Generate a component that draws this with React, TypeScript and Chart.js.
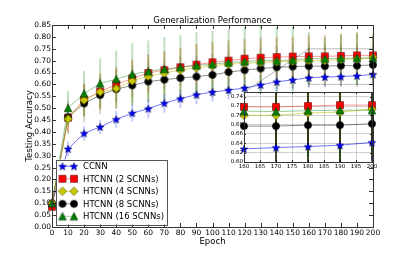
import React, { useEffect, useRef } from "react";
import { Chart, registerables } from "chart.js";
Chart.register(...registerables);

// ---------------- data ----------------
const epochs = [0, 10, 20, 30, 40, 50, 60, 70, 80, 90, 100, 110, 120, 130, 140, 150, 160, 170, 180, 190, 200];
const ccnn = [0.100, 0.329, 0.394, 0.421, 0.453, 0.479, 0.498, 0.521, 0.540, 0.557, 0.568, 0.576, 0.585, 0.598, 0.611, 0.619, 0.628, 0.631, 0.633, 0.636, 0.642];
const htcnn2 = [0.085, 0.460, 0.535, 0.570, 0.600, 0.625, 0.648, 0.660, 0.672, 0.683, 0.693, 0.700, 0.708, 0.712, 0.715, 0.717, 0.718, 0.718, 0.720, 0.722, 0.722];
const htcnn4 = [0.100, 0.455, 0.534, 0.568, 0.583, 0.615, 0.634, 0.648, 0.660, 0.670, 0.678, 0.685, 0.689, 0.692, 0.695, 0.697, 0.700, 0.700, 0.705, 0.707, 0.713];
const htcnn8 = [0.100, 0.462, 0.520, 0.555, 0.580, 0.596, 0.612, 0.620, 0.627, 0.633, 0.640, 0.652, 0.660, 0.667, 0.672, 0.675, 0.677, 0.677, 0.679, 0.679, 0.682];
const htcnn16 = [0.100, 0.501, 0.562, 0.604, 0.622, 0.643, 0.655, 0.665, 0.672, 0.680, 0.685, 0.692, 0.696, 0.700, 0.700, 0.703, 0.709, 0.708, 0.710, 0.711, 0.711];

const errCcnn = [0.010, 0.030, 0.030, 0.030, 0.035, 0.035, 0.040, 0.040, 0.040, 0.040, 0.040, 0.040, 0.040, 0.040, 0.040, 0.040, 0.040, 0.040, 0.040, 0.040, 0.040];
const err2 = [0.010, 0.060, 0.070, 0.075, 0.075, 0.080, 0.080, 0.080, 0.080, 0.085, 0.085, 0.085, 0.085, 0.085, 0.085, 0.085, 0.090, 0.090, 0.090, 0.090, 0.090];
const err4 = [0.010, 0.060, 0.070, 0.080, 0.085, 0.090, 0.090, 0.090, 0.095, 0.100, 0.100, 0.100, 0.100, 0.100, 0.100, 0.100, 0.100, 0.100, 0.110, 0.110, 0.100];
const err8 = [0.010, 0.070, 0.080, 0.080, 0.085, 0.085, 0.085, 0.085, 0.090, 0.090, 0.090, 0.090, 0.090, 0.090, 0.090, 0.090, 0.090, 0.090, 0.090, 0.090, 0.090];
const err16 = [0.010, 0.070, 0.095, 0.105, 0.120, 0.130, 0.130, 0.135, 0.135, 0.140, 0.140, 0.140, 0.145, 0.145, 0.140, 0.140, 0.110, 0.090, 0.100, 0.110, 0.090];

const labels = ["CCNN", "HTCNN (2 SCNNs)", "HTCNN (4 SCNNs)", "HTCNN (8 SCNNs)", "HTCNN (16 SCNNs)"];
const titleText = "Generalization Performance";
const xTitle = "Epoch";
const yTitle = "Testing Accuracy";

const mainX = { min: 0, max: 200, step: 10 };
const mainY = { min: 0, max: 0.85, step: 0.05 };
const insetX = { min: 160, max: 200, step: 5 };
const insetY = { min: 0.6, max: 0.75, step: 0.02 };

const FONT = "DejaVu Sans";

// ---------------- markers ----------------
function makeMarker(kind: string, fill: string, stroke: string): HTMLCanvasElement {
  const c = document.createElement("canvas");
  const s = 12;
  c.width = s;
  c.height = s;
  const ctx = c.getContext("2d")!;
  const cx = s / 2, cy = s / 2;
  ctx.fillStyle = fill;
  ctx.strokeStyle = stroke;
  ctx.lineWidth = 0.6;
  ctx.beginPath();
  if (kind === "star") {
    const ro = 4.0, ri = 1.7;
    for (let i = 0; i < 10; i++) {
      const r = i % 2 === 0 ? ro : ri;
      const a = -Math.PI / 2 + (i * Math.PI) / 5;
      const px = cx + r * Math.cos(a), py = cy + 0.4 + r * Math.sin(a);
      if (i === 0) ctx.moveTo(px, py); else ctx.lineTo(px, py);
    }
    ctx.closePath();
  } else if (kind === "square") {
    ctx.rect(cx - 3.5, cy - 3.5, 7, 7);
  } else if (kind === "diamond") {
    const h = 4.3;
    ctx.moveTo(cx, cy - h);
    ctx.lineTo(cx + h, cy);
    ctx.lineTo(cx, cy + h);
    ctx.lineTo(cx - h, cy);
    ctx.closePath();
  } else if (kind === "circle") {
    ctx.arc(cx, cy, 3.6, 0, Math.PI * 2);
  } else if (kind === "triangle") {
    const h = 3.8;
    ctx.moveTo(cx, cy - h);
    ctx.lineTo(cx + h, cy + h);
    ctx.lineTo(cx - h, cy + h);
    ctx.closePath();
  }
  ctx.fill();
  ctx.stroke();
  return c;
}

type Series = {
  label: string;
  values: number[];
  err: number[];
  marker: HTMLCanvasElement;
  line: string;
  errMain: string;
  errInset: string;
  order: number;
};

function drawInwardTicks(chart: any, len: number) {
  const { ctx, chartArea: a, scales } = chart;
  ctx.save();
  ctx.strokeStyle = "#000";
  ctx.lineWidth = 0.8;
  ctx.beginPath();
  for (const t of scales.y.ticks) {
    const py = Math.round(scales.y.getPixelForValue(t.value)) + 0.5;
    ctx.moveTo(a.left, py); ctx.lineTo(a.left + len, py);
    ctx.moveTo(a.right, py); ctx.lineTo(a.right - len, py);
  }
  for (const t of scales.x.ticks) {
    const px = Math.round(scales.x.getPixelForValue(t.value)) + 0.5;
    ctx.moveTo(px, a.bottom); ctx.lineTo(px, a.bottom - len);
    ctx.moveTo(px, a.top); ctx.lineTo(px, a.top + len);
  }
  ctx.stroke();
  ctx.strokeStyle = "#333";
  ctx.lineWidth = 1;
  ctx.strokeRect(Math.round(a.left) + 0.5, Math.round(a.top) + 0.5, Math.round(a.right - a.left), Math.round(a.bottom - a.top));
  ctx.restore();
}

const INSET_LEFT = 220;
const INSET_TOP = 86;
const INSET_W = 160;
const INSET_H = 86;

export default function App() {
  const mainRef = useRef<HTMLCanvasElement>(null);
  const insetRef = useRef<HTMLCanvasElement>(null);

  useEffect(() => {
    document.body.style.margin = "0";
    const series: Series[] = [
      { label: labels[0], values: ccnn, err: errCcnn, marker: makeMarker("star", "#0000ff", "#000066"), line: "rgba(0,0,255,0.55)", errMain: "rgba(0,0,255,0.22)", errInset: "rgba(0,0,140,0.85)", order: 4 },
      { label: labels[1], values: htcnn2, err: err2, marker: makeMarker("square", "#ff0000", "#660000"), line: "rgba(255,0,0,0.4)", errMain: "rgba(200,0,0,0.2)", errInset: "rgba(120,0,0,0.7)", order: 3 },
      { label: labels[2], values: htcnn4, err: err4, marker: makeMarker("diamond", "#c8c800", "#555500"), line: "rgba(191,191,0,0.55)", errMain: "rgba(191,191,0,0.25)", errInset: "rgba(90,90,0,0.8)", order: 1 },
      { label: labels[3], values: htcnn8, err: err8, marker: makeMarker("circle", "#000000", "#000000"), line: "rgba(0,0,0,0.45)", errMain: "rgba(0,0,0,0.16)", errInset: "rgba(0,0,0,0.8)", order: 2 },
      { label: labels[4], values: htcnn16, err: err16, marker: makeMarker("triangle", "#008000", "#003300"), line: "rgba(0,128,0,0.4)", errMain: "rgba(0,128,0,0.25)", errInset: "rgba(0,70,0,0.8)", order: 0 },
    ];
    const errDrawOrder = [0, 3, 2, 1, 4];

    const makeDatasets = (filter: (e: number) => boolean) =>
      series.map((s) => ({
        label: s.label,
        data: epochs.map((e, i) => ({ x: e, y: s.values[i] })).filter((p) => filter(p.x)),
        borderColor: s.line,
        borderWidth: 1,
        pointStyle: s.marker,
        pointRadius: 5,
        pointHoverRadius: 5,
        fill: false,
        tension: 0,
        order: s.order,
        clip: false as any,
      }));

    const errPlugin = (insetMode: boolean) => ({
      id: insetMode ? "errInset" : "errMain",
      beforeDatasetsDraw(chart: any) {
        const { ctx, chartArea: a, scales } = chart;
        ctx.save();
        ctx.beginPath();
        ctx.rect(a.left, a.top, a.right - a.left, a.bottom - a.top);
        ctx.clip();
        for (const k of errDrawOrder) {
          const s = series[k];
          ctx.strokeStyle = insetMode ? s.errInset : s.errMain;
          ctx.lineWidth = insetMode ? 1.2 : 2;
          ctx.beginPath();
          epochs.forEach((e, i) => {
            if (insetMode && e < insetX.min) return;
            const px = scales.x.getPixelForValue(e);
            ctx.moveTo(px, scales.y.getPixelForValue(s.values[i] - s.err[i]));
            ctx.lineTo(px, scales.y.getPixelForValue(s.values[i] + s.err[i]));
          });
          ctx.stroke();
        }
        ctx.restore();
      },
    });

    // ---------- inset chart ----------
    const inset = new Chart(insetRef.current!, {
      type: "line",
      data: { datasets: makeDatasets((e) => e >= insetX.min) as any },
      options: {
        responsive: false,
        maintainAspectRatio: false,
        animation: false,
        devicePixelRatio: 1,
        events: [],
        layout: { padding: { left: 0, right: 8, top: 4, bottom: 0 } },
        plugins: { legend: { display: false }, title: { display: false }, tooltip: { enabled: false } },
        scales: {
          x: {
            type: "linear",
            min: insetX.min,
            max: insetX.max,
            afterFit: (s: any) => { s.height = 10; },
            border: { display: false },
            grid: { color: "rgba(0,0,0,0.18)", lineWidth: 1, drawTicks: false, tickLength: 0 },
            ticks: { stepSize: insetX.step, autoSkip: false, maxRotation: 0, padding: 1, color: "#000", font: { family: FONT, size: 5.5 } },
          },
          y: {
            type: "linear",
            min: insetY.min,
            max: insetY.max,
            afterFit: (s: any) => { s.width = 24; },
            border: { display: false },
            grid: { color: "rgba(0,0,0,0.18)", lineWidth: 1, drawTicks: false, tickLength: 0 },
            ticks: { stepSize: insetY.step, includeBounds: false, autoSkip: false, padding: 1, color: "#000", font: { family: FONT, size: 5.5 }, callback: (v: any) => Number(v).toFixed(2) },
          },
        },
      },
      plugins: [
        {
          id: "insetBg",
          beforeDraw(chart: any) {
            const { ctx, chartArea: a } = chart;
            ctx.save();
            ctx.fillStyle = "#fff";
            ctx.fillRect(a.left, a.top, a.right - a.left, a.bottom - a.top);
            ctx.restore();
          },
          afterDraw(chart: any) { drawInwardTicks(chart, 2); },
        },
        errPlugin(true),
      ] as any,
    });

    // ---------- main chart ----------
    const main = new Chart(mainRef.current!, {
      type: "line",
      data: { datasets: makeDatasets(() => true) as any },
      options: {
        responsive: false,
        maintainAspectRatio: false,
        animation: false,
        devicePixelRatio: 1,
        events: [],
        layout: { padding: { left: 0, right: 42, top: 25, bottom: 0 } },
        plugins: { legend: { display: false }, title: { display: false }, tooltip: { enabled: false } },
        scales: {
          x: {
            type: "linear",
            min: mainX.min,
            max: mainX.max,
            afterFit: (s: any) => { s.height = 27; },
            border: { display: false },
            grid: { display: false, drawTicks: false, tickLength: 0 },
            ticks: { stepSize: mainX.step, autoSkip: false, maxRotation: 0, minRotation: 0, padding: 2, color: "#000", font: { family: FONT, size: 7.5 } },
          },
          y: {
            type: "linear",
            min: mainY.min,
            max: mainY.max,
            afterFit: (s: any) => { s.width = 52; },
            border: { display: false },
            grid: { display: false, drawTicks: false, tickLength: 0 },
            ticks: { stepSize: mainY.step, autoSkip: false, padding: 1, color: "#000", font: { family: FONT, size: 7.5 }, callback: (v: any) => Number(v).toFixed(2) },
          },
        },
      },
      plugins: [
        errPlugin(false),
        {
          id: "markInset",
          afterDatasetsDraw(chart: any) {
            const { ctx, scales } = chart;
            const x1 = scales.x.getPixelForValue(insetX.min);
            const x2 = scales.x.getPixelForValue(insetX.max);
            const y1 = scales.y.getPixelForValue(insetY.max);
            const y2 = scales.y.getPixelForValue(insetY.min);
            const ia = inset.chartArea;
            ctx.save();
            ctx.strokeStyle = "rgba(0,0,0,0.22)";
            ctx.lineWidth = 1.2;
            ctx.strokeRect(x1, y1, x2 - x1, y2 - y1);
            ctx.beginPath();
            ctx.moveTo(x1, y1);
            ctx.lineTo(INSET_LEFT + ia.left, INSET_TOP + ia.top);
            ctx.moveTo(x2, y2);
            ctx.lineTo(INSET_LEFT + ia.right, INSET_TOP + ia.bottom);
            ctx.stroke();
            ctx.restore();
          },
        },
        {
          id: "decor",
          afterDraw(chart: any) {
            const { ctx, chartArea: a } = chart;
            drawInwardTicks(chart, 4);
            ctx.save();
            ctx.fillStyle = "#000";
            ctx.font = `8.5px "${FONT}"`;
            ctx.textAlign = "center";
            ctx.textBaseline = "alphabetic";
            ctx.fillText(titleText, (a.left + a.right) / 2, a.top - 2);
            ctx.fillText(xTitle, (a.left + a.right) / 2, a.bottom + 16.5);
            ctx.save();
            ctx.translate(32, (a.top + a.bottom) / 2);
            ctx.rotate(-Math.PI / 2);
            ctx.fillText(yTitle, 0, 0);
            ctx.restore();

            // legend
            const bx = a.left + 4, by = a.bottom - 67.5, bw = 111, bh = 65;
            ctx.fillStyle = "#fff";
            ctx.fillRect(bx, by, bw, bh);
            ctx.strokeStyle = "#555";
            ctx.lineWidth = 1;
            ctx.strokeRect(Math.round(bx) + 0.5, Math.round(by) + 0.5, bw, bh);
            ctx.textAlign = "left";
            ctx.textBaseline = "middle";
            series.forEach((s, i) => {
              const ry = by + 6.8 + i * 12.5;
              const m1 = bx + 6.5, m2 = bx + 18;
              ctx.strokeStyle = s.line;
              ctx.lineWidth = 1;
              ctx.beginPath();
              ctx.moveTo(m1, ry);
              ctx.lineTo(m2, ry);
              ctx.stroke();
              ctx.drawImage(s.marker, m1 - s.marker.width / 2, ry - s.marker.height / 2);
              ctx.drawImage(s.marker, m2 - s.marker.width / 2, ry - s.marker.height / 2);
              ctx.fillStyle = "#000";
              ctx.fillText(s.label, bx + 27, ry + 0.5);
            });
            ctx.restore();
          },
        },
      ] as any,
    });

    return () => {
      main.destroy();
      inset.destroy();
    };
  }, []);

  return (
    <div style={{ position: "relative", width: 415, height: 254, background: "#fff" }}>
      <canvas ref={mainRef} width={415} height={254} style={{ position: "absolute", left: 0, top: 0, width: 415, height: 254 }} />
      <canvas ref={insetRef} width={INSET_W} height={INSET_H} style={{ position: "absolute", left: INSET_LEFT, top: INSET_TOP, width: INSET_W, height: INSET_H }} />
    </div>
  );
}
